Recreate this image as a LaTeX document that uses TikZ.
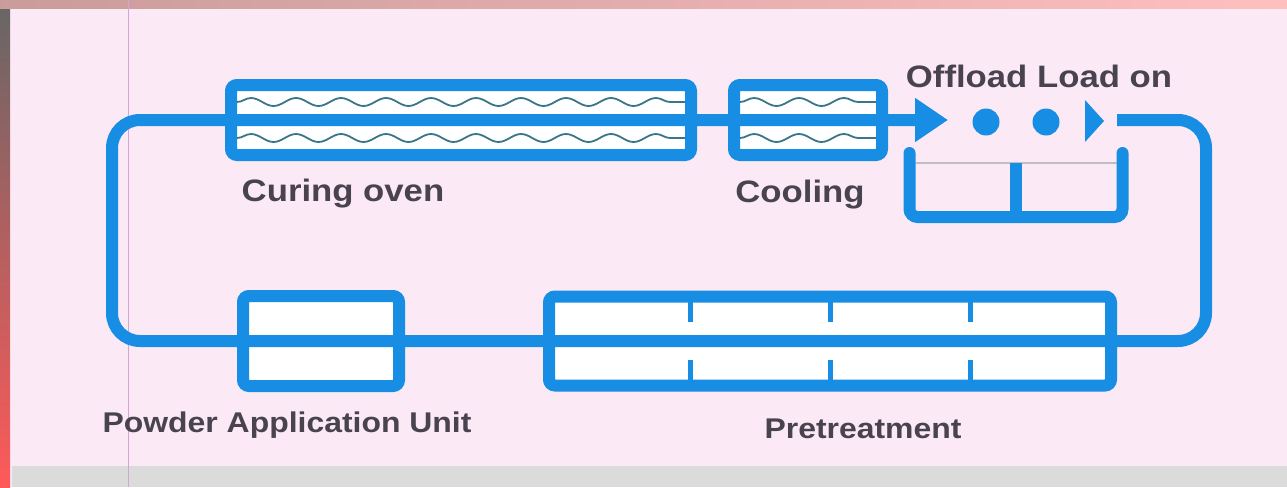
\documentclass[tikz,border=0pt]{standalone}
\usepackage{fontspec}
\setmainfont{Liberation Sans}
\usetikzlibrary{arrows.meta,decorations.pathmorphing}
\definecolor{beltblue}{RGB}{24,141,228}
\definecolor{paper}{RGB}{251,234,246}
\definecolor{ink}{RGB}{72,67,78}
\definecolor{wavy}{RGB}{58,118,138}
\newcommand\lbltext[1]{\scalebox{1.12}[1]{#1}}

\begin{document}
\begin{tikzpicture}[x=1pt,y=-1pt,
  unit/.style={draw=beltblue,line width=12pt,fill=white,rounded corners=6pt,inner sep=0pt},
  belt/.style={draw=beltblue,line width=12pt},
  tick/.style={draw=beltblue,line width=5pt},
  wave/.style={draw=wavy,line width=1.8pt,decorate,decoration={snake,segment length=45pt,amplitude=4pt}},
  lbl/.style={text=ink,font=\fontsize{31}{37}\selectfont\bfseries,inner sep=0pt,anchor=base},
  lbllow/.style={lbl,font=\fontsize{28.5}{34}\selectfont\bfseries},
  pallet/.style={circle,fill=beltblue,minimum size=27pt,inner sep=0pt}]
  \useasboundingbox (0,0) rectangle (1287,487);
  % paper and scan edges
  \fill[paper] (0,0) rectangle (1287,487);
  \fill[top color=black!60,middle color=black!55,bottom color=red!65] (0,0) rectangle (10,487);
  \fill[left color=red!30!gray!60,middle color=orange!55!red!80,right color=pink] (0,0) rectangle (1287,9);
  \fill[black!14] (12,466) rectangle (1287,487);
  \draw[violet!35,line width=1pt] (128,0) -- (128,487);

  % stations
  \node[unit,minimum width=460pt,minimum height=70pt] (oven)   at (461,120) {};
  \node[unit,minimum width=148pt,minimum height=70pt] (cool)   at (808,120) {};
  \node[unit,minimum width=156pt,minimum height=90pt] (powder) at (321,341) {};
  \node[unit,minimum width=562pt,minimum height=89pt] (pret)   at (830,341) {};
  \node[minimum width=213pt,minimum height=64pt,inner sep=0pt,outer sep=0pt] (station) at (1016,185) {};

  % conveyor loop
  \coordinate (load) at (1117,120);
  \coordinate (ne)   at (1206,120);
  \coordinate (se)   at (1206,341);
  \coordinate (sw)   at (112,341);
  \coordinate (nw)   at (112,120);
  \coordinate (head) at (948,120);
  \draw[belt,rounded corners=28pt,-{Triangle[length=33pt,width=42pt]}] (load) -- (ne) -- (se) -- (pret.east) -- (pret.west)
    -- (powder.east) -- (powder.west) -- (sw) -- (nw) -- (oven.west) -- (oven.east) -- (cool.west) -- (cool.east) -- (head);

  % heat in oven and cooling
  \draw[wave] ([xshift=12pt,yshift=-23pt]oven.north west) -- ([xshift=-12pt,yshift=-23pt]oven.north east);
  \draw[wave] ([xshift=12pt,yshift=23pt]oven.south west) -- ([xshift=-12pt,yshift=23pt]oven.south east);
  \draw[wave] ([xshift=12pt,yshift=-23pt]cool.north west) -- ([xshift=-12pt,yshift=-23pt]cool.north east);
  \draw[wave] ([xshift=12pt,yshift=23pt]cool.south west) -- ([xshift=-12pt,yshift=23pt]cool.south east);

  % pretreatment stages
  \foreach \x in {690,830,970} {
    \draw[tick] (\x,298) -- (\x,322);
    \draw[tick] (\x,360) -- (\x,387);
  }

  % offload / load on
  \node[pallet] (p1) at (986,122) {};
  \node[pallet] (p2) at (1046,122) {};
  \fill[beltblue] (1085,100) -- (1104,121) -- (1085,142) -- cycle;
  \draw[black!25,line width=1.2pt] ([xshift=6pt,yshift=-10pt]station.north west) -- ([xshift=-6pt,yshift=-10pt]station.north east);
  \draw[belt,line cap=round,rounded corners=8pt] (station.north west) -- (station.south west) -- (station.south east) -- (station.north east);
  \draw[belt] (station.south) -- ([yshift=-10pt]station.north);

  % labels
  \node[lbl] (ovenlbl)   at (343,201)  {\lbltext{Curing oven}};
  \node[lbl] (coollbl)   at (800,202)  {\lbltext{Cooling}};
  \node[lbl] (loadlbl)   at (1039,88)  {\lbltext{Offload Load on}};
  \node[lbllow] (powderlbl) at (287,432)  {\lbltext{Powder Application Unit}};
  \node[lbllow] (pretlbl)   at (863,438)  {\lbltext{Pretreatment}};
\end{tikzpicture}
\end{document}
